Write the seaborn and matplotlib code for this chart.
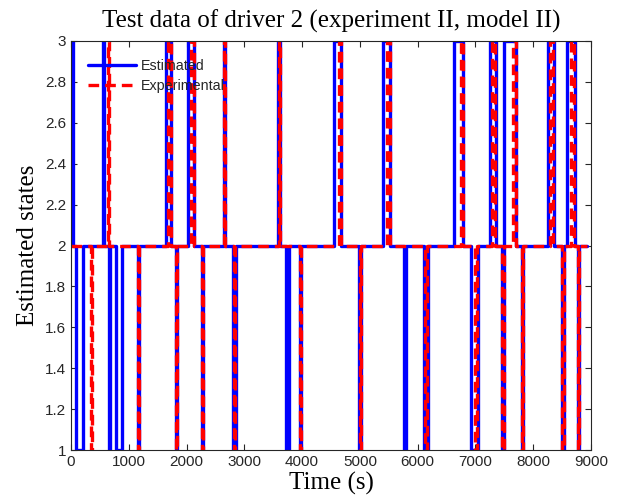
import matplotlib
matplotlib.use("Agg")
import matplotlib.pyplot as plt
import seaborn as sns
import pandas as pd

# Pulses away from the baseline state 2 (start time, end time, state)
baseline_state = 2
end_time = 8930

est_start = [0, 87, 560, 658, 776, 1160, 1638, 1815, 2025, 2260, 2655, 2812, 3590, 3720, 3968,
             4555, 4990, 5393, 5772, 6105, 6626, 6915, 7245, 7465, 7494, 7800, 8258, 8505, 8588, 8778]
est_end = [30, 203, 575, 672, 880, 1178, 1731, 1832, 2125, 2278, 2672, 2850, 3610, 3775, 3985,
           4675, 5015, 5525, 5790, 6185, 6782, 7043, 7360, 7488, 7708, 7825, 8362, 8530, 8720, 8800]
est_level = [3, 1, 3, 1, 1, 1, 3, 1, 3, 1, 3, 1, 3, 1, 1,
             3, 1, 3, 1, 1, 3, 1, 3, 1, 3, 1, 3, 1, 3, 1]

exp_start = [352, 640, 1160, 1680, 1815, 2085, 2260, 2655, 2822, 3592, 3968, 4640, 4995, 5470,
             6135, 6755, 7000, 7290, 7468, 7655, 7800, 8295, 8505, 8655, 8778]
exp_end = [372, 656, 1178, 1731, 1832, 2125, 2278, 2672, 2842, 3612, 3985, 4670, 5012, 5520,
           6155, 6780, 7020, 7345, 7486, 7700, 7825, 8345, 8530, 8705, 8800]
exp_level = [1, 3, 1, 3, 1, 3, 1, 3, 1, 3, 1, 3, 1, 3,
             1, 3, 1, 3, 1, 3, 1, 3, 1, 3, 1]

x_ticks = [0, 1000, 2000, 3000, 4000, 5000, 6000, 7000, 8000, 9000]
y_ticks = [1, 1.2, 1.4, 1.6, 1.8, 2, 2.2, 2.4, 2.6, 2.8, 3]
y_tick_labels = ["1", "1.2", "1.4", "1.6", "1.8", "2", "2.2", "2.4", "2.6", "2.8", "3"]


def steps(starts, ends, levels):
    t = [0]
    v = [baseline_state]
    for s, e, lv in zip(starts, ends, levels):
        t += [s, e]
        v += [lv, baseline_state]
    t.append(end_time)
    v.append(baseline_state)
    return pd.DataFrame({"Time": t, "State": v})


est_df = steps(est_start, est_end, est_level)
exp_df = steps(exp_start, exp_end, exp_level)

sns.set_style("white")
plt.rcParams["font.family"] = ["Liberation Sans", "DejaVu Sans"]

fig = plt.figure(figsize=(6.22, 4.95), dpi=100)
ax = fig.add_axes([71 / 622, 1 - 450 / 495, 520 / 622, 409 / 495])

sns.lineplot(data=est_df, x="Time", y="State", ax=ax, color="#0000ff", lw=2.4,
             estimator=None, sort=False, drawstyle="steps-post", label="Estimated")
sns.lineplot(data=exp_df, x="Time", y="State", ax=ax, color="#ff0000", lw=2.4,
             estimator=None, sort=False, drawstyle="steps-post", label="Experimental")
ax.lines[-1].set_dashes([3.2, 1.8])

ax.set_xlim(0, 9000)
ax.set_ylim(1, 3)
ax.set_xticks(x_ticks)
ax.set_xticklabels([str(v) for v in x_ticks])
ax.set_yticks(y_ticks)
ax.set_yticklabels(y_tick_labels)

dark = "#262626"
for sp in ax.spines.values():
    sp.set_visible(True)
    sp.set_color(dark)
    sp.set_linewidth(0.8)
ax.tick_params(direction="in", length=4, width=0.8, colors=dark, labelsize=11,
               top=True, right=True, bottom=True, left=True, labelcolor=dark)

serif = ["Liberation Serif", "DejaVu Serif"]
ax.set_title("Test data of driver 2 (experiment II, model II)", fontsize=18,
             family=serif, color="black", pad=10)
ax.set_xlabel("Time (s)", fontsize=18, family=serif, color="black", labelpad=2)
ax.set_ylabel("Estimated states", fontsize=18, family=serif, color="black", labelpad=4)

leg = ax.legend(loc="upper left", bbox_to_anchor=(0.032, 0.955), frameon=False,
                fontsize=10.3, handlelength=3.4, handletextpad=0.3, borderpad=0,
                borderaxespad=0, labelspacing=0.42)

fig.savefig("out.png", dpi=100)
